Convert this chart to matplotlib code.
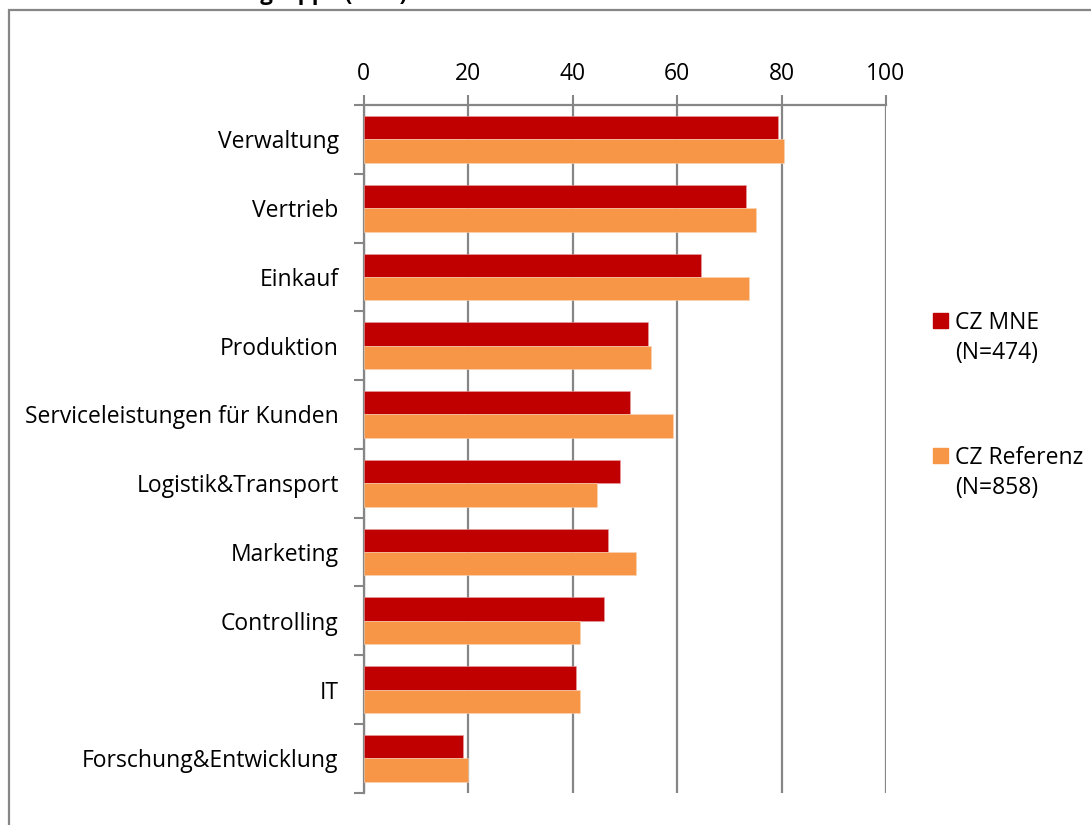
import matplotlib
matplotlib.use('Agg')
import matplotlib.pyplot as plt
import numpy as np
from matplotlib.patches import Rectangle

plt.rcParams['font.family'] = ['Open Sans', 'DejaVu Sans']

categories = ["Verwaltung", "Vertrieb", "Einkauf", "Produktion",
              "Serviceleistungen für Kunden", "Logistik&Transport",
              "Marketing", "Controlling", "IT", "Forschung&Entwicklung"]
mne = [79.4, 73.1, 64.6, 54.5, 50.9, 49.0, 46.8, 46.0, 40.7, 19.0]
referenz = [80.5, 75.2, 73.7, 55.1, 59.3, 44.7, 52.1, 41.5, 41.4, 20.0]
series_labels = ["CZ MNE\n(N=474)", "CZ Referenz\n(N=858)"]
colors = ["#C00000", "#F79646"]
x_ticks = [0, 20, 40, 60, 80, 100]

W, H = 1091, 825
fs = 16.5
fig = plt.figure(figsize=(W / 100, H / 100), dpi=100)
ax = fig.add_axes([363.7 / W, 1 - 792.7 / H, (886 - 363.7) / W, (792.7 - 105) / H])

gray = "#868686"
y = np.arange(len(categories))
h = 0.34
ax.barh(y - h / 2, mne, height=h, color=colors[0], edgecolor="#e8a0a0", linewidth=0.4, zorder=3)
ax.barh(y + h / 2, referenz, height=h, color=colors[1], edgecolor="#fbd3b5", linewidth=0.4, zorder=3)

ax.set_xlim(0, 100)
ax.set_ylim(len(categories) - 0.5, -0.5)
ax.xaxis.tick_top()
ax.set_xticks(x_ticks)
ax.set_xticklabels([str(t) for t in x_ticks], fontsize=fs)
ax.tick_params(axis='x', direction='out', length=7, width=1.5, color=gray, pad=7)
ax.grid(axis='x', color=gray, linewidth=1.6, zorder=1)

ax.set_yticks(np.arange(len(categories) + 1) - 0.5)
ax.set_yticklabels([])
ax.set_yticks(y, minor=True)
ax.set_yticklabels(categories, minor=True, fontsize=fs)
ax.tick_params(axis='y', which='major', direction='out', length=7, width=1.5, color=gray)
ax.tick_params(axis='y', which='minor', length=0, pad=18)

for s in ['right', 'bottom']:
    ax.spines[s].set_visible(False)
for s in ['left', 'top']:
    ax.spines[s].set_color(gray)
    ax.spines[s].set_linewidth(1.6)

# outer chart frame
fig.patches.append(Rectangle((8.5 / W, -0.1), 1.2, 1 - 10.5 / H + 0.1,
                             transform=fig.transFigure, fill=False,
                             edgecolor=gray, linewidth=1.6))

# title, cut off at the top edge as in the original
fig.text(407 / W, 1.0, "Funktionsgruppe (in %)", ha='right', va='baseline',
         fontsize=16, fontweight='bold')

# legend
for i, (lab, c) in enumerate(zip(series_labels, colors)):
    ytop = 313 + i * 135
    fig.patches.append(Rectangle((933 / W, 1 - (ytop + 15) / H), 15 / W, 15 / H,
                                 transform=fig.transFigure, color=c))
    fig.text(955 / W, 1 - (ytop - 2) / H, lab, ha='left', va='top', fontsize=fs,
             linespacing=1.32)

plt.savefig("out.png", dpi=100)
